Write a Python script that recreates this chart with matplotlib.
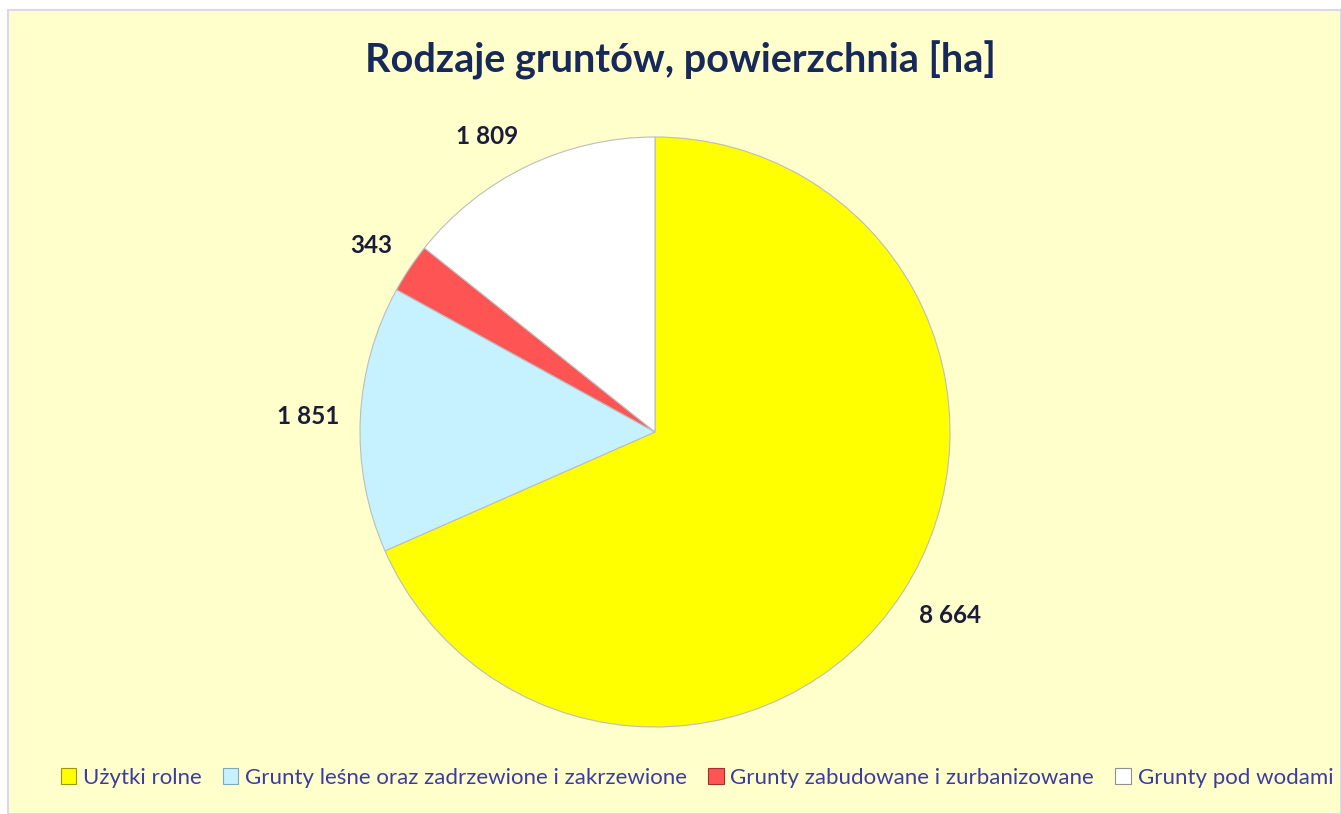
import matplotlib.pyplot as plt
import matplotlib.patches as mpatches
import numpy as np

# Data
categories = ['Użytki rolne', 'Grunty leśne oraz zadrzewione i zakrzewione',
              'Grunty zabudowane i zurbanizowane', 'Grunty pod wodami']
values = [8664, 1851, 343, 1809]
value_labels = ['8 664', '1 851', '343', '1 809']
colors = ['#FFFF00', '#C6F1FF', '#FF5454', '#FFFFFF']

plt.rcParams['font.family'] = ['Lato', 'DejaVu Sans']

fig = plt.figure(figsize=(13.41, 8.14), dpi=100)
fig.patch.set_facecolor('white')

# chart area background
bg = mpatches.Rectangle((8 / 1341, 0), 1 - 8 / 1341, 1 - 10 / 814,
                        transform=fig.transFigure, facecolor='#FFFFCC',
                        edgecolor='#D8D8EE', linewidth=1.5, zorder=-10)
fig.patches.append(bg)

fig.text(680 / 1341, 1 - 60 / 814, 'Rodzaje gruntów, powierzchnia [ha]',
         ha='center', va='center', fontsize=28.5, fontweight='bold', color='#17285A')

ax = fig.add_axes([(655 - 295) / 1341, (382 - 295) / 814, 590 / 1341, 590 / 814])
ax.set_facecolor('none')
wedges, _ = ax.pie(values, colors=colors, startangle=90, counterclock=False,
                   wedgeprops=dict(edgecolor='#BDBDBD', linewidth=0.8))
ax.set_xlim(-1, 1)
ax.set_ylim(-1, 1)
ax.set_aspect('equal')
ax.axis('off')

# data labels: box placed just outside the edge, like "outside end"
texts = []
for w, lab in zip(wedges, value_labels):
    mid = np.deg2rad((w.theta1 + w.theta2) / 2)
    r = 1.07
    t = ax.annotate(lab, xy=(r * np.cos(mid), r * np.sin(mid)),
                    xytext=(0, 0), textcoords='offset pixels',
                    ha='center', va='center', fontsize=17.5,
                    fontweight='bold', color='#1C1C3A', annotation_clip=False)
    texts.append((t, mid))

fig.canvas.draw()
for t, mid in texts:
    bb = t.get_window_extent()
    fx = np.clip(np.cos(mid) * 3, -1, 1)
    fy = np.clip(np.sin(mid) * 3, -1, 1)
    t.xyann = (fx * bb.width / 2, fy * bb.height / 2)

handles = [mpatches.Patch(facecolor=c, edgecolor=e, linewidth=0.8)
           for c, e in zip(colors, ['#9A9A00', '#7FA8BF', '#A03030', '#909090'])]
fig.legend(handles, categories, loc='center', ncol=4, frameon=False,
           bbox_to_anchor=(697 / 1341, 1 - 778 / 814), fontsize=16,
           labelcolor='#3C3CA0', handlelength=0.7, handleheight=0.7,
           handletextpad=0.3, columnspacing=0.95)

fig.savefig('out.png', dpi=100, facecolor=fig.get_facecolor())
